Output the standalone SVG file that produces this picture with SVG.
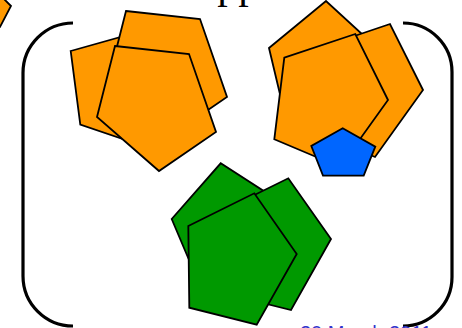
<svg xmlns="http://www.w3.org/2000/svg" width="462" height="328" viewBox="0 0 462 328">
<style>
.o{fill:#ff9900;stroke:#000;stroke-width:1.8;stroke-linejoin:miter}
.g{fill:#009900;stroke:#000;stroke-width:1.8}
.b{fill:#0066ff;stroke:#000;stroke-width:1.8}
.br{fill:none;stroke:#000;stroke-width:3.2}
.title{font-family:"Liberation Serif",serif;font-size:42px;fill:#000}
.date{font-family:"Liberation Sans",sans-serif;font-size:20px;fill:#3333cc}
</style>
<rect width="462" height="328" fill="#fff"/>
<text class="title" x="187" y="-2">Approach</text>
<g id="corner-shape"><polygon class="o" points="-20,-20 4,-1 11,6 0,27 -20,30"/></g>
<g id="brackets">
<path class="br" d="M73,23 A50,50 0 0 0 23,73 L23,276 A50,50 0 0 0 73,326"/>
<path class="br" d="M403,23 A49,49 0 0 1 452,72 L452,277 A49,49 0 0 1 403,326"/>
</g>
<g id="orange-left">
<polygon class="o" points="70.7,51 142,31 196,93 158,151 80.3,124.5"/>
<polygon class="o" points="126,11 200,19 227,97 170,136 108,82"/>
<polygon class="o" points="115,46 189,54 216,132 159,171 97,117"/>
</g>
<g id="orange-right">
<polygon class="o" points="269,48 326,1 380.5,51 359.7,130.6 288,128"/>
<polygon class="o" points="319,48 390,24 423,90 375,157 309,129"/>
<polygon class="o" points="284.3,57.7 355.3,34 388,100 340,167 274.3,139.3"/>
</g>
<g id="blue"><polygon class="b" points="342.7,128.3 375.3,146.7 363.7,175.7 323,175.7 311.3,146"/></g>
<g id="green">
<polygon class="g" points="171.7,219 220.7,163.3 283.5,203.8 273,284.6 203.6,294.3"/>
<polygon class="g" points="222,211 288.3,178.3 331,239 291,310 223,293"/>
<polygon class="g" points="188.3,226 254.3,193.3 296.7,254 256.7,324.7 189.3,307.7"/>
</g>
<text class="date" x="300" y="340">20 March 2011</text>
</svg>
